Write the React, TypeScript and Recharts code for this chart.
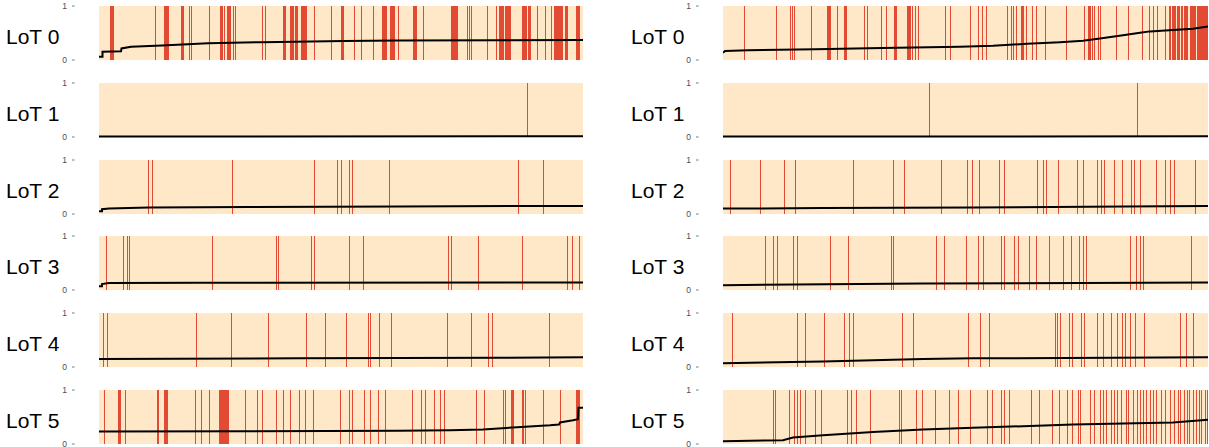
import React from 'react';
import { ComposedChart, Line, XAxis, YAxis, ReferenceArea } from 'recharts';

type Ev = number | number[];

const lotLabels = ['LoT 0', 'LoT 1', 'LoT 2', 'LoT 3', 'LoT 4', 'LoT 5'];
const yTicks = [0, 1];

// ---------- left column (x: sample rank, 0..484) ----------
const left0Events: Ev[] = [[11, 14], 56, [65, 69], [82, 84], 90, 92, 110, [121, 123], 125, [128, 131], 134, 136, 163, 166, [184, 186], [191, 194], [196, 198], [202, 207], 215, 232, [242, 244], 255, 262, 274, [283, 286], 287, [291, 295], 299, [314, 317], 324, [352, 358], 368, 370, 372, 388, 397, [400, 404], [406, 411], [423, 427], [429, 431], 438, 446, 452, [455, 462], 463, [466, 468], [477, 480]];
const left0LineX = [0, 3.5, 3.5, 22, 22.5, 32, 63, 109, 163, 245, 300, 400, 484];
const left0LineY = [0.06, 0.06, 0.155, 0.16, 0.215, 0.245, 0.27, 0.31, 0.33, 0.35, 0.36, 0.365, 0.37];

const left1Events: Ev[] = [428];
const left1LineX = [0, 484];
const left1LineY = [0.01, 0.012];

const left2Events: Ev[] = [49, 53, 133, 215, 238, 242, 250, 253, 290, 419, 444];
const left2LineX = [0, 3, 3, 10, 50, 150, 300, 484];
const left2LineY = [0.05, 0.05, 0.09, 0.1, 0.12, 0.13, 0.14, 0.15];

const left3Events: Ev[] = [7, 24, 28, 30, 113, 177, 179, 212, 215, 250, 264, 349, 352, 379, 423, 468, 473, 480];
const left3LineX = [0, 3, 3, 10, 100, 484];
const left3LineY = [0.07, 0.07, 0.11, 0.13, 0.135, 0.14];

const left4Events: Ev[] = [4, 8, 97, 132, 169, 207, 226, 247, 269, 271, 280, 292, 348, 372, 389, 393, 450];
const left4LineX = [0, 200, 400, 484];
const left4LineY = [0.15, 0.16, 0.17, 0.18];

const left5Events: Ev[] = [5, [19, 21], 26, [58, 59], [65, 68], 96, 102, 110, [120, 129], 146, 158, 163, 177, 184, 191, 200, 206, 214, 241, 250, 253, 265, 271, 279, 286, 313, 322, 326, 335, 341, 345, 377, 385, 404, 406, [412, 414], [423, 424], 426, 444, 461, [477, 480]];
const left5LineX = [0, 150, 300, 351, 384, 418, 451, 460, 461, 474, 479, 479.5, 484];
const left5LineY = [0.23, 0.235, 0.245, 0.254, 0.27, 0.31, 0.346, 0.36, 0.4, 0.44, 0.46, 0.67, 0.67];

// ---------- right column (x: sample rank, 0..485) ----------
const right0Events: Ev[] = [21, 53, 67, 69, 71, 88, [104, 107], 114, [121, 123], 141, 144, 158, 163, [171, 173], [184, 186], 187, 189, 192, 195, 222, 227, 247, 255, 259, 263, 284, 288, 290, 293, [298, 300], 303, 309, 313, 322, 343, 361, [365, 367], 369, 371, 375, 377, 393, 405, 419, 426, 430, 434, 442, [446, 447], [449, 452], [454, 456], [458, 459], [461, 464], [467, 472], [474, 484]];
const right0LineX = [0, 2, 25, 92, 159, 237, 270, 304, 337, 360, 377, 400, 417, 427, 450, 470, 485];
const right0LineY = [0.135, 0.167, 0.18, 0.2, 0.22, 0.246, 0.265, 0.3, 0.33, 0.357, 0.4, 0.46, 0.505, 0.53, 0.555, 0.58, 0.62];

const right1Events: Ev[] = [206, 414];
const right1LineX = [0, 485];
const right1LineY = [0.01, 0.012];

const right2Events: Ev[] = [7, 37, 61, 72, 130, 170, 181, 218, 244, 249, 256, 276, 281, 314, 320, 323, 335, 354, 360, 374, 378, 381, 391, 399, 408, 411, 417, 433, 442, 447, 451, 472];
const right2LineX = [0, 100, 250, 400, 485];
const right2LineY = [0.1, 0.11, 0.12, 0.14, 0.15];

const right3Events: Ev[] = [42, 50, 54, 70, 74, 107, 125, 168, 170, 213, 221, 243, 255, 260, 278, 281, 291, 295, 306, 313, 326, 340, 348, 356, 360, 363, 407, 413, 417, 420, 468];
const right3LineX = [0, 200, 485];
const right3LineY = [0.09, 0.12, 0.14];

const right4Events: Ev[] = [9, 74, 82, 101, 121, 126, 130, 179, 190, 245, 257, 266, 332, 334, 337, 346, 349, 358, 361, 374, 380, 388, 394, 399, 402, 407, 412, 421, 457, 463, 470];
const right4LineX = [0, 100, 200, 250, 485];
const right4LineY = [0.07, 0.1, 0.15, 0.16, 0.18];

const right5Events: Ev[] = [50, 52, 66, 71, 74, 77, 82, 92, 98, 124, 128, 133, 147, 176, 178, 193, 199, 212, 226, 235, 247, 264, 269, 278, 281, 286, 308, 316, 329, 336, 344, 349, 355, 357, 367, 371, 377, 380, 383, 388, 391, 394, 398, 403, 405, 410, 414, 417, 420, 423, 427, 430, 433, 438, 442, 447, 451, 455, 457, 461, 464, 466, 470, 473, 476, 478, 482, 484];
const right5LineX = [0, 60, 70, 100, 150, 200, 250, 300, 350, 400, 450, 485];
const right5LineY = [0.05, 0.07, 0.12, 0.16, 0.22, 0.27, 0.3, 0.33, 0.36, 0.38, 0.4, 0.45];

const leftPanels = [
  { events: left0Events, xs: left0LineX, ys: left0LineY },
  { events: left1Events, xs: left1LineX, ys: left1LineY },
  { events: left2Events, xs: left2LineX, ys: left2LineY },
  { events: left3Events, xs: left3LineX, ys: left3LineY },
  { events: left4Events, xs: left4LineX, ys: left4LineY },
  { events: left5Events, xs: left5LineX, ys: left5LineY },
];
const rightPanels = [
  { events: right0Events, xs: right0LineX, ys: right0LineY },
  { events: right1Events, xs: right1LineX, ys: right1LineY },
  { events: right2Events, xs: right2LineX, ys: right2LineY },
  { events: right3Events, xs: right3LineX, ys: right3LineY },
  { events: right4Events, xs: right4LineX, ys: right4LineY },
  { events: right5Events, xs: right5LineX, ys: right5LineY },
];

const BG = '#fee8c8';
const RED = '#e34a33';
const AXIS_W = 99;
const PAD = 6;
const PANEL_H = 54;

const YTick = (props: any) => {
  const { y, payload } = props;
  return (
    <g>
      <text x={AXIS_W - 32} y={y} dy="0.33em" textAnchor="end" fontSize={8.5} fill="#4d4d4d" fontFamily="Liberation Sans, Arial, sans-serif">
        {payload.value}
      </text>
      <line x1={AXIS_W - 27} x2={AXIS_W - 24.5} y1={y} y2={y} stroke="#555" strokeWidth={0.8} />
    </g>
  );
};

function Panel({ events, xs, ys, span, left, top }: { events: Ev[]; xs: number[]; ys: number[]; span: number; left: number; top: number }) {
  const data = xs.map((x, i) => ({ x, y: ys[i] }));
  return (
    <div style={{ position: 'absolute', left, top: top - PAD }}>
      <ComposedChart width={AXIS_W + span} height={PANEL_H + 2 * PAD} data={data} margin={{ top: PAD, right: 0, bottom: PAD, left: 0 }}>
        <XAxis type="number" dataKey="x" domain={[0, span]} hide allowDataOverflow />
        <YAxis type="number" domain={[0, 1]} ticks={yTicks} interval={0} width={AXIS_W} axisLine={false} tickLine={false} tick={<YTick />} />
        <ReferenceArea x1={0} x2={span} y1={0} y2={1} fill={BG} fillOpacity={1} stroke="none" />
        {events.map((e, i) => {
          const a = Array.isArray(e) ? e[0] : e;
          const b = Array.isArray(e) ? e[1] + 1 : e + 1;
          return <ReferenceArea key={i} x1={a} x2={b} y1={0} y2={1} fill={RED} fillOpacity={1} stroke="none" />;
        })}
        <Line type="linear" dataKey="y" stroke="#000" strokeWidth={2} dot={false} isAnimationActive={false} />
      </ComposedChart>
    </div>
  );
}

export default function App() {
  const tops = [0, 1, 2, 3, 4, 5].map((i) => 6 + i * 76.8);
  return (
    <div style={{ position: 'absolute', left: 0, top: 0, width: 1209, height: 447, background: '#fff', overflow: 'hidden' }}>
      {leftPanels.map((p, i) => (
        <Panel key={'l' + i} events={p.events} xs={p.xs} ys={p.ys} span={484} left={0} top={tops[i]} />
      ))}
      {rightPanels.map((p, i) => (
        <Panel key={'r' + i} events={p.events} xs={p.xs} ys={p.ys} span={485} left={624} top={tops[i]} />
      ))}
      <svg width={1209} height={447} style={{ position: 'absolute', left: 0, top: 0, pointerEvents: 'none' }}>
        {lotLabels.map((t, i) => (
          <g key={i}>
            <text x={6} y={tops[i] + 38} fontSize={21} fontFamily="Liberation Sans, Arial, sans-serif" fill="#000">{t}</text>
            <text x={631} y={tops[i] + 38} fontSize={21} fontFamily="Liberation Sans, Arial, sans-serif" fill="#000">{t}</text>
          </g>
        ))}
      </svg>
    </div>
  );
}
